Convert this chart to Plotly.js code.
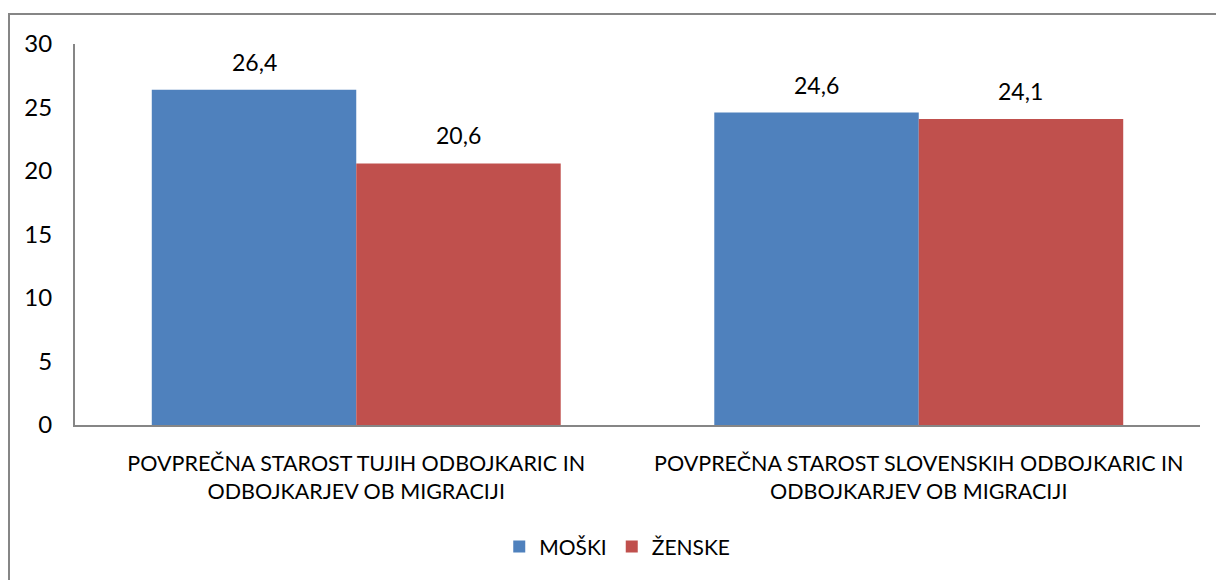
<!DOCTYPE html>
<html><head><meta charset="utf-8">
<script src="https://cdn.plot.ly/plotly-3.0.1.min.js"></script>
<style>
html,body{margin:0;padding:0;background:#fff;}
#wrap{position:relative;width:1216px;height:580px;overflow:hidden;}
#chart{position:absolute;left:0;top:0;width:1216px;height:580px;}
#frame{position:absolute;left:8px;top:13px;width:1300px;height:700px;border:2px solid #868686;box-sizing:border-box;pointer-events:none;}
</style></head>
<body><div id="wrap"><div id="chart"></div><div id="frame"></div></div>
<script>
const categories = ["POVPREČNA STAROST TUJIH ODBOJKARIC IN<br>ODBOJKARJEV OB MIGRACIJI",
                    "POVPREČNA STAROST SLOVENSKIH ODBOJKARIC IN<br>ODBOJKARJEV OB MIGRACIJI"];
const seriesNames = ["MOŠKI", "ŽENSKE"];
const moski = [26.4, 24.6];
const zenske = [20.6, 24.1];
const yTicks = [0, 5, 10, 15, 20, 25, 30];

const fontFam = "Lato, 'Open Sans', sans-serif";
const colors = ["#4F81BD", "#C0504D"];
const values = [moski, zenske];

const ml = 75, mr = 16, mt = 44, mb = 152, W = 1216;
const bargap = 0.273;
const catW = (W - ml - mr) / categories.length;
const barW = catW * (1 - bargap) / 2;

const traces = values.map((v, i) => ({
  type: "bar", x: categories, y: v, name: seriesNames[i],
  marker: {color: colors[i], line: {width: 0}}, hoverinfo: "none"
}));

const fmt = n => n.toFixed(1).replace(".", ",");
const annotations = [];
values.forEach((v, i) => {
  v.forEach((val, j) => {
    annotations.push({
      x: categories[j], y: val, xref: "x", yref: "y",
      text: fmt(val), showarrow: false,
      xshift: (i === 0 ? -1 : 1) * barW / 2, yshift: 28,
      font: {family: fontFam, size: 23, color: "#000"}
    });
  });
});

const layout = {
  width: 1216, height: 580,
  margin: {l: ml, r: mr, t: mt, b: mb},
  paper_bgcolor: "#fff", plot_bgcolor: "#fff",
  barmode: "group", bargap: bargap, bargroupgap: 0,
  font: {family: fontFam, size: 21, color: "#000"},
  xaxis: {
    showline: true, linecolor: "#868686", linewidth: 2,
    ticks: "", showgrid: false, zeroline: false,
    ticklabelstandoff: 18,
    tickfont: {family: fontFam, size: 21.5, color: "#000"}
  },
  yaxis: {
    range: [0, 30], tickvals: yTicks, ticktext: yTicks.map(String),
    showline: true, linecolor: "#868686", linewidth: 2,
    ticks: "", showgrid: false, zeroline: false,
    ticklabelstandoff: 16,
    tickfont: {family: fontFam, size: 24, color: "#000"}
  },
  showlegend: true,
  legend: {
    orientation: "h", x: 0.482, xanchor: "center", y: -0.32, yanchor: "middle",
    font: {family: fontFam, size: 21, color: "#000"},
    itemwidth: 30, traceorder: "normal"
  },
  annotations: annotations
};

Plotly.newPlot("chart", traces, layout, {displayModeBar: false, staticPlot: true});
</script></body></html>
